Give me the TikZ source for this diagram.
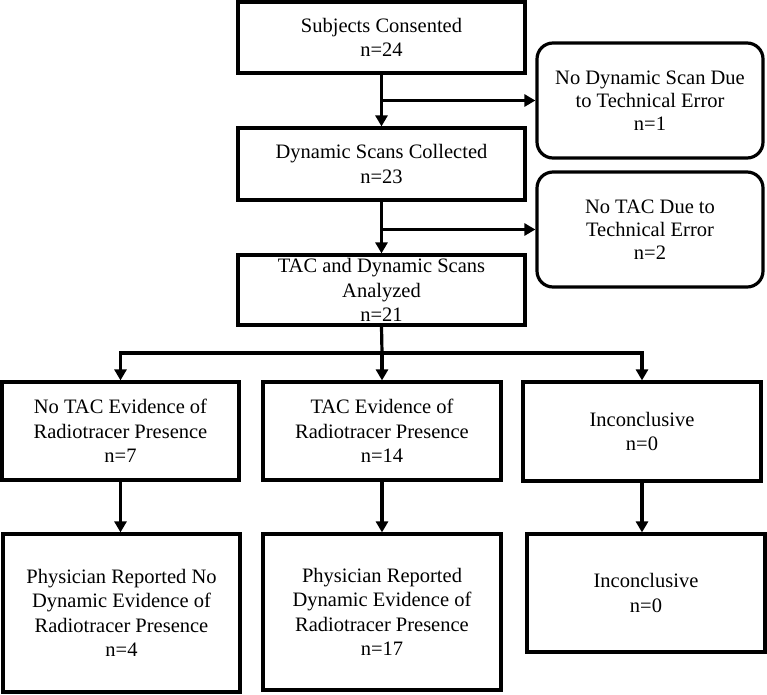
\documentclass[tikz,border=0pt]{standalone}
\usepackage{fontspec}
\setmainfont{Liberation Serif}
\usetikzlibrary{arrows.meta}
\tikzset{
 box/.style={draw=black, line width=3.2pt, inner sep=0pt, align=center, font=\fontsize{20.5}{24.5}\selectfont},
 rbox/.style={box, rounded corners=16pt, font=\fontsize{20.5}{23}\selectfont},
 tip/.tip={Triangle[length=11pt,width=12pt]},
 arr/.style={line width=3.2pt, -tip},
 ln/.style={line width=3.2pt},
}
\begin{document}
\begin{tikzpicture}[x=1pt,y=-1pt]
\useasboundingbox (0,0) rectangle (767,694);
\node[box, minimum width=287pt, minimum height=71pt] (n1) at (381.5,37.5) {\raisebox{-2pt}{\parbox{270pt}{\centering Subjects Consented\\n=24}}};
\node[rbox, minimum width=226pt, minimum height=115pt] (s1) at (650,100.5) {\raisebox{-3pt}{\parbox{200pt}{\centering No Dynamic Scan Due\\to Technical Error\\n=1}}};
\node[box, minimum width=287pt, minimum height=72pt] (n2) at (381.5,164) {\raisebox{-2pt}{\parbox{270pt}{\centering Dynamic Scans Collected\\n=23}}};
\node[rbox, minimum width=226pt, minimum height=115pt] (s2) at (650,229.5) {\raisebox{-3pt}{\parbox{200pt}{\centering No TAC Due to\\Technical Error\\n=2}}};
\node[box, minimum width=287pt, minimum height=70pt] (n3) at (381.5,290) {TAC and Dynamic Scans\\Analyzed\\n=21};
\node[box, minimum width=237pt, minimum height=98pt] (m1) at (120.5,431) {No TAC Evidence of\\Radiotracer Presence\\n=7};
\node[box, minimum width=238pt, minimum height=98pt] (m2) at (382,431) {TAC Evidence of\\Radiotracer Presence\\n=14};
\node[box, minimum width=238pt, minimum height=99pt] (m3) at (642,431.5) {Inconclusive\\n=0};
\node[box, minimum width=237pt, minimum height=158pt] (b1) at (121.5,613) {Physician Reported No\\Dynamic Evidence of\\Radiotracer Presence\\n=4};
\node[box, minimum width=238pt, minimum height=156pt] (b2) at (382,612) {Physician Reported\\Dynamic Evidence of\\Radiotracer Presence\\n=17};
\node[box, minimum width=238pt, minimum height=118pt] (b3) at (646,593) {Inconclusive\\n=0};
\coordinate (j1) at (n1.south |- s1.west);
\coordinate (j2) at (n2.south |- s2.west);
\coordinate (j3) at (382,353);
\draw[arr] (n1.south) -- (n2.north);
\draw[arr] (j1) -- (s1.west);
\draw[arr] (n2.south) -- (n3.north);
\draw[arr] (j2) -- (s2.west);
\draw[ln] (n3.south) -- (j3);
\draw[line width=3.2pt, tip-tip, line join=miter] (m1.north) -- (m1.north |- j3) -- (m3.north |- j3) -- (m3.north);
\draw[arr] (j3) -- (m2.north);
\draw[arr] (m1.south) -- (m1.south |- b1.north);
\draw[arr] (m2.south) -- (m2.south |- b2.north);
\draw[arr] (m3.south) -- (m3.south |- b3.north);
\end{tikzpicture}
\end{document}
